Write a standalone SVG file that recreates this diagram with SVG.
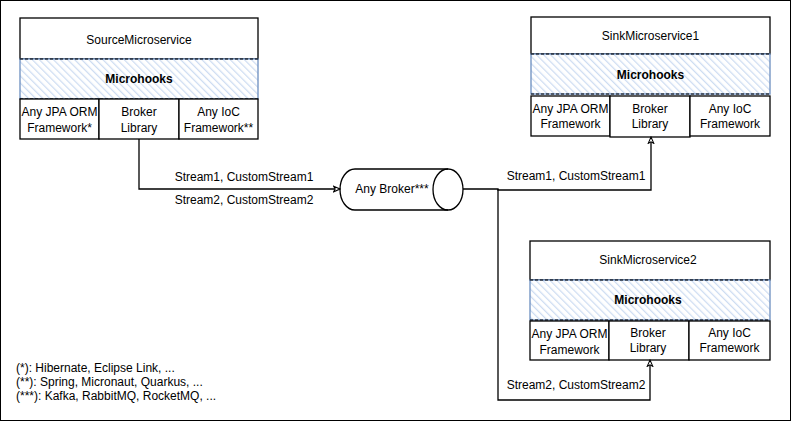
<svg xmlns="http://www.w3.org/2000/svg" width="791" height="421" viewBox="0 0 791 421">
<style>
.box{fill:#fff;stroke:#000;stroke-width:1.3}
.mh{fill:url(#hatch);stroke:#6c8ebf;stroke-width:1.3}
.mhd{fill:none;stroke:#000;stroke-width:1;stroke-dasharray:3 2}
.t{font-family:"Liberation Sans",Arial,sans-serif;font-size:12px;fill:#000;text-anchor:middle}
.b{font-weight:bold}
.fn{font-family:"Liberation Sans",Arial,sans-serif;font-size:12px;fill:#000}
.ln{fill:none;stroke:#000;stroke-width:1.3}
</style>
<defs>
<pattern id="hatch" patternUnits="userSpaceOnUse" width="5" height="5" patternTransform="rotate(-45)">
<rect width="5" height="5" fill="#fff"/>
<line x1="0" y1="0" x2="0" y2="5" stroke="#cddcf2" stroke-width="2.5"/>
</pattern>
<marker id="arr" viewBox="0 0 10 10" refX="9" refY="5" markerWidth="8" markerHeight="8" orient="auto-start-reverse" markerUnits="userSpaceOnUse">
<path d="M1,1.5 L9,5 L1,8.5 L3,5 Z" fill="#fff" stroke="#000" stroke-width="1.3"/>
</marker>
</defs>
<rect x="0.5" y="0.5" width="790" height="420" fill="#fff" stroke="#000" stroke-width="1"/>

<g id="source">
<rect class="box" x="20" y="18" width="238" height="41"/>
<text class="t" x="139" y="44">SourceMicroservice</text>
<rect class="mh" x="20" y="59" width="238" height="40"/>
<line class="mhd" x1="20" y1="59" x2="258" y2="59"/>
<line class="mhd" x1="20" y1="99" x2="258" y2="99"/>
<text class="t b" x="139" y="83">Microhooks</text>
<rect class="box" x="20" y="99" width="79" height="40"/>
<rect class="box" x="99" y="99" width="80" height="40"/>
<rect class="box" x="179" y="99" width="79" height="40"/>
<text class="t" x="59.5" y="116">Any JPA ORM</text>
<text class="t" x="59.5" y="132">Framework*</text>
<text class="t" x="139" y="116">Broker</text>
<text class="t" x="139" y="132">Library</text>
<text class="t" x="218.5" y="116">Any IoC</text>
<text class="t" x="218.5" y="132">Framework**</text>
</g>

<g id="sink1">
<rect class="box" x="531" y="17" width="239" height="37"/>
<text class="t" x="650.5" y="40">SinkMicroservice1</text>
<rect class="mh" x="531" y="54" width="239" height="40"/>
<line class="mhd" x1="531" y1="54" x2="770" y2="54"/>
<line class="mhd" x1="531" y1="94" x2="770" y2="94"/>
<text class="t b" x="650.5" y="79">Microhooks</text>
<rect class="box" x="531" y="96" width="79" height="40"/>
<rect class="box" x="610" y="96" width="80" height="41"/>
<rect class="box" x="690" y="96" width="80" height="40"/>
<text class="t" x="570.5" y="113">Any JPA ORM</text>
<text class="t" x="570.5" y="128">Framework</text>
<text class="t" x="650" y="113">Broker</text>
<text class="t" x="650" y="128">Library</text>
<text class="t" x="730" y="113">Any IoC</text>
<text class="t" x="730" y="128">Framework</text>
</g>

<g id="sink2">
<rect class="box" x="530" y="241" width="240" height="39"/>
<text class="t" x="648" y="264">SinkMicroservice2</text>
<rect class="mh" x="530" y="280" width="240" height="40"/>
<line class="mhd" x1="530" y1="280" x2="770" y2="280"/>
<line class="mhd" x1="530" y1="320" x2="770" y2="320"/>
<text class="t b" x="648" y="304">Microhooks</text>
<rect class="box" x="530" y="321" width="79" height="39"/>
<rect class="box" x="609" y="321" width="80" height="39"/>
<rect class="box" x="689" y="321" width="81" height="39"/>
<text class="t" x="569.5" y="338">Any JPA ORM</text>
<text class="t" x="569.5" y="354">Framework</text>
<text class="t" x="648" y="337">Broker</text>
<text class="t" x="648" y="352">Library</text>
<text class="t" x="729.5" y="337">Any IoC</text>
<text class="t" x="729.5" y="352">Framework</text>
</g>

<g id="broker">
<path class="box" d="M355,169 L448,169 A15,20.5 0 0 1 448,210 L355,210 A15,20.5 0 0 1 355,169 Z"/>
<path class="ln" d="M448,169 A15,20.5 0 0 0 448,210"/>
<text class="t" x="392" y="193">Any Broker***</text>
</g>

<g id="connectors">
<path class="ln" d="M139,139 L139,189 L340,189" marker-end="url(#arr)"/>
<path class="ln" d="M463,189 L498,189 L498,190 L651,190 L651,137" marker-end="url(#arr)"/>
<path class="ln" d="M498,189 L498,400 L650,400 L650,360" marker-end="url(#arr)"/>
<text class="t" x="244" y="181">Stream1, CustomStream1</text>
<text class="t" x="244" y="204">Stream2, CustomStream2</text>
<text class="t" x="576" y="180">Stream1, CustomStream1</text>
<text class="t" x="576" y="389">Stream2, CustomStream2</text>
</g>

<g id="footnotes">
<text class="fn" x="16" y="372">(*): Hibernate, Eclipse Link, ...</text>
<text class="fn" x="16" y="386">(**): Spring, Micronaut, Quarkus, ...</text>
<text class="fn" x="16" y="400">(***): Kafka, RabbitMQ, RocketMQ, ...</text>
</g>
</svg>
